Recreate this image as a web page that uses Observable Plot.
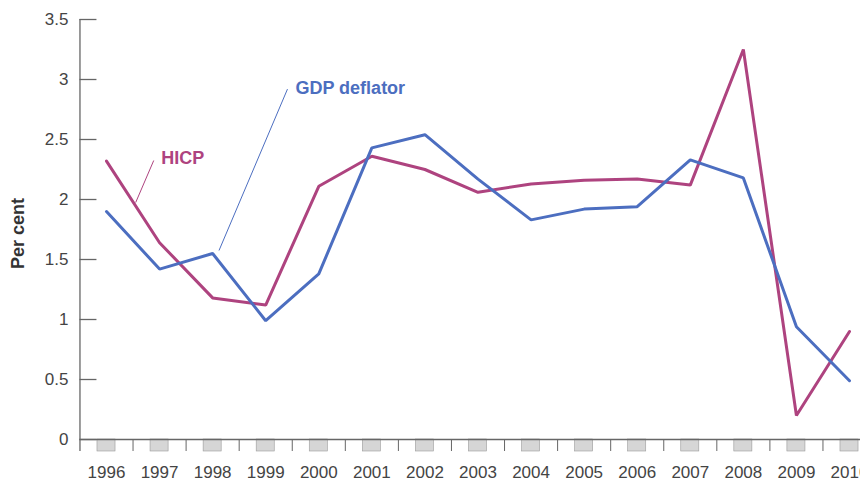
<!DOCTYPE html>
<html>
<head>
<meta charset="utf-8">
<script src="https://cdn.jsdelivr.net/npm/d3@7"></script>
<script src="https://cdn.jsdelivr.net/npm/@observablehq/plot@0.6"></script>
<style>
  html, body { margin: 0; padding: 0; background: #fff; }
  svg { display: block; }
</style>
</head>
<body>
<div id="chart"></div>
<script>
const years = [1996, 1997, 1998, 1999, 2000, 2001, 2002, 2003, 2004, 2005, 2006, 2007, 2008, 2009, 2010];
const hicp = [2.32, 1.64, 1.18, 1.12, 2.11, 2.36, 2.25, 2.06, 2.13, 2.16, 2.17, 2.12, 3.25, 0.20, 0.90];
const gdpDeflator = [1.90, 1.42, 1.55, 0.99, 1.38, 2.43, 2.54, 2.17, 1.83, 1.92, 1.94, 2.33, 2.18, 0.94, 0.49];
const yTicks = [0, 0.5, 1, 1.5, 2, 2.5, 3, 3.5];
const seriesNames = ["HICP", "GDP deflator"];
const seriesColors = ["#ae437f", "#4c6ec0"];
// label annotations: [label position x, y] and leader line [from x,y -> to x,y]
const labelPos = [[1997.03, 2.34], [1999.56, 2.925]];
const leaderFrom = [[1996.55, 1.975], [1998.12, 1.575]];
const leaderTo = [[1996.89, 2.325], [1999.41, 2.92]];

const rows = [];
years.forEach((yr, i) => {
  rows.push({year: yr, value: hicp[i], series: seriesNames[0]});
});
years.forEach((yr, i) => {
  rows.push({year: yr, value: gdpDeflator[i], series: seriesNames[1]});
});
const labels = seriesNames.map((s, i) => ({
  name: s, color: seriesColors[i],
  x: labelPos[i][0], y: labelPos[i][1],
  x1: leaderFrom[i][0], y1: leaderFrom[i][1],
  x2: leaderTo[i][0], y2: leaderTo[i][1]
}));
const boundaries = years.slice(0, -1).map(y => y + 0.5);

const axisColor = "#666";
const chart = Plot.plot({
  width: 860,
  height: 489,
  marginLeft: 80,
  marginRight: 0,
  marginTop: 19,
  marginBottom: 50,
  style: {fontFamily: "Liberation Sans, Arial, sans-serif", background: "#fff"},
  x: {domain: [1996, 2010], range: [106, 849], axis: null},
  y: {domain: [0, 3.5], axis: null},
  color: {domain: seriesNames, range: seriesColors},
  marks: [
    Plot.axisY(yTicks, {anchor: "left", tickSize: 0, tickPadding: 12, fontSize: 17, fill: "#444", tickFormat: d => String(d), label: null}),
    Plot.ruleY(yTicks, {y: d => d, x1: () => 1995.5, x2: () => 1995.82, stroke: axisColor, strokeWidth: 1.3}),
    Plot.rect(years, {x1: d => d - 0.17, x2: d => d + 0.17, y1: () => 0, y2: () => -0.1, fill: "#d6d6d6", stroke: "#9a9a9a", strokeWidth: 0.6}),
    Plot.ruleX(boundaries, {x: d => d, y1: () => 0, y2: () => -0.1, stroke: axisColor, strokeWidth: 1}),
    Plot.ruleX([1995.5], {y1: () => -0.1, y2: () => 3.5, stroke: axisColor, strokeWidth: 1.3}),
    Plot.ruleY([0], {x1: () => 1995.5, x2: () => 2010.6, stroke: axisColor, strokeWidth: 1.3}),
    Plot.axisX(years, {anchor: "bottom", tickSize: 0, tickPadding: 26, fontSize: 17, fill: "#444", tickFormat: d => String(d), label: null}),
    Plot.text(["Per cent"], {frameAnchor: "left", dx: -62, dy: 4, rotate: -90, textAnchor: "middle", fontSize: 18, fontWeight: "bold", fill: "#333"}),
    Plot.line(rows, {x: "year", y: "value", z: "series", stroke: "series", strokeWidth: 3, strokeLinejoin: "miter"}),
    Plot.link(labels, {x1: "x1", y1: "y1", x2: "x2", y2: "y2", stroke: "color", strokeWidth: 1}),
    Plot.text(labels, {x: "x", y: "y", text: "name", fill: "color", textAnchor: "start", fontSize: 18, fontWeight: "bold"})
  ]
});
document.getElementById("chart").appendChild(chart);
</script>
</body>
</html>
